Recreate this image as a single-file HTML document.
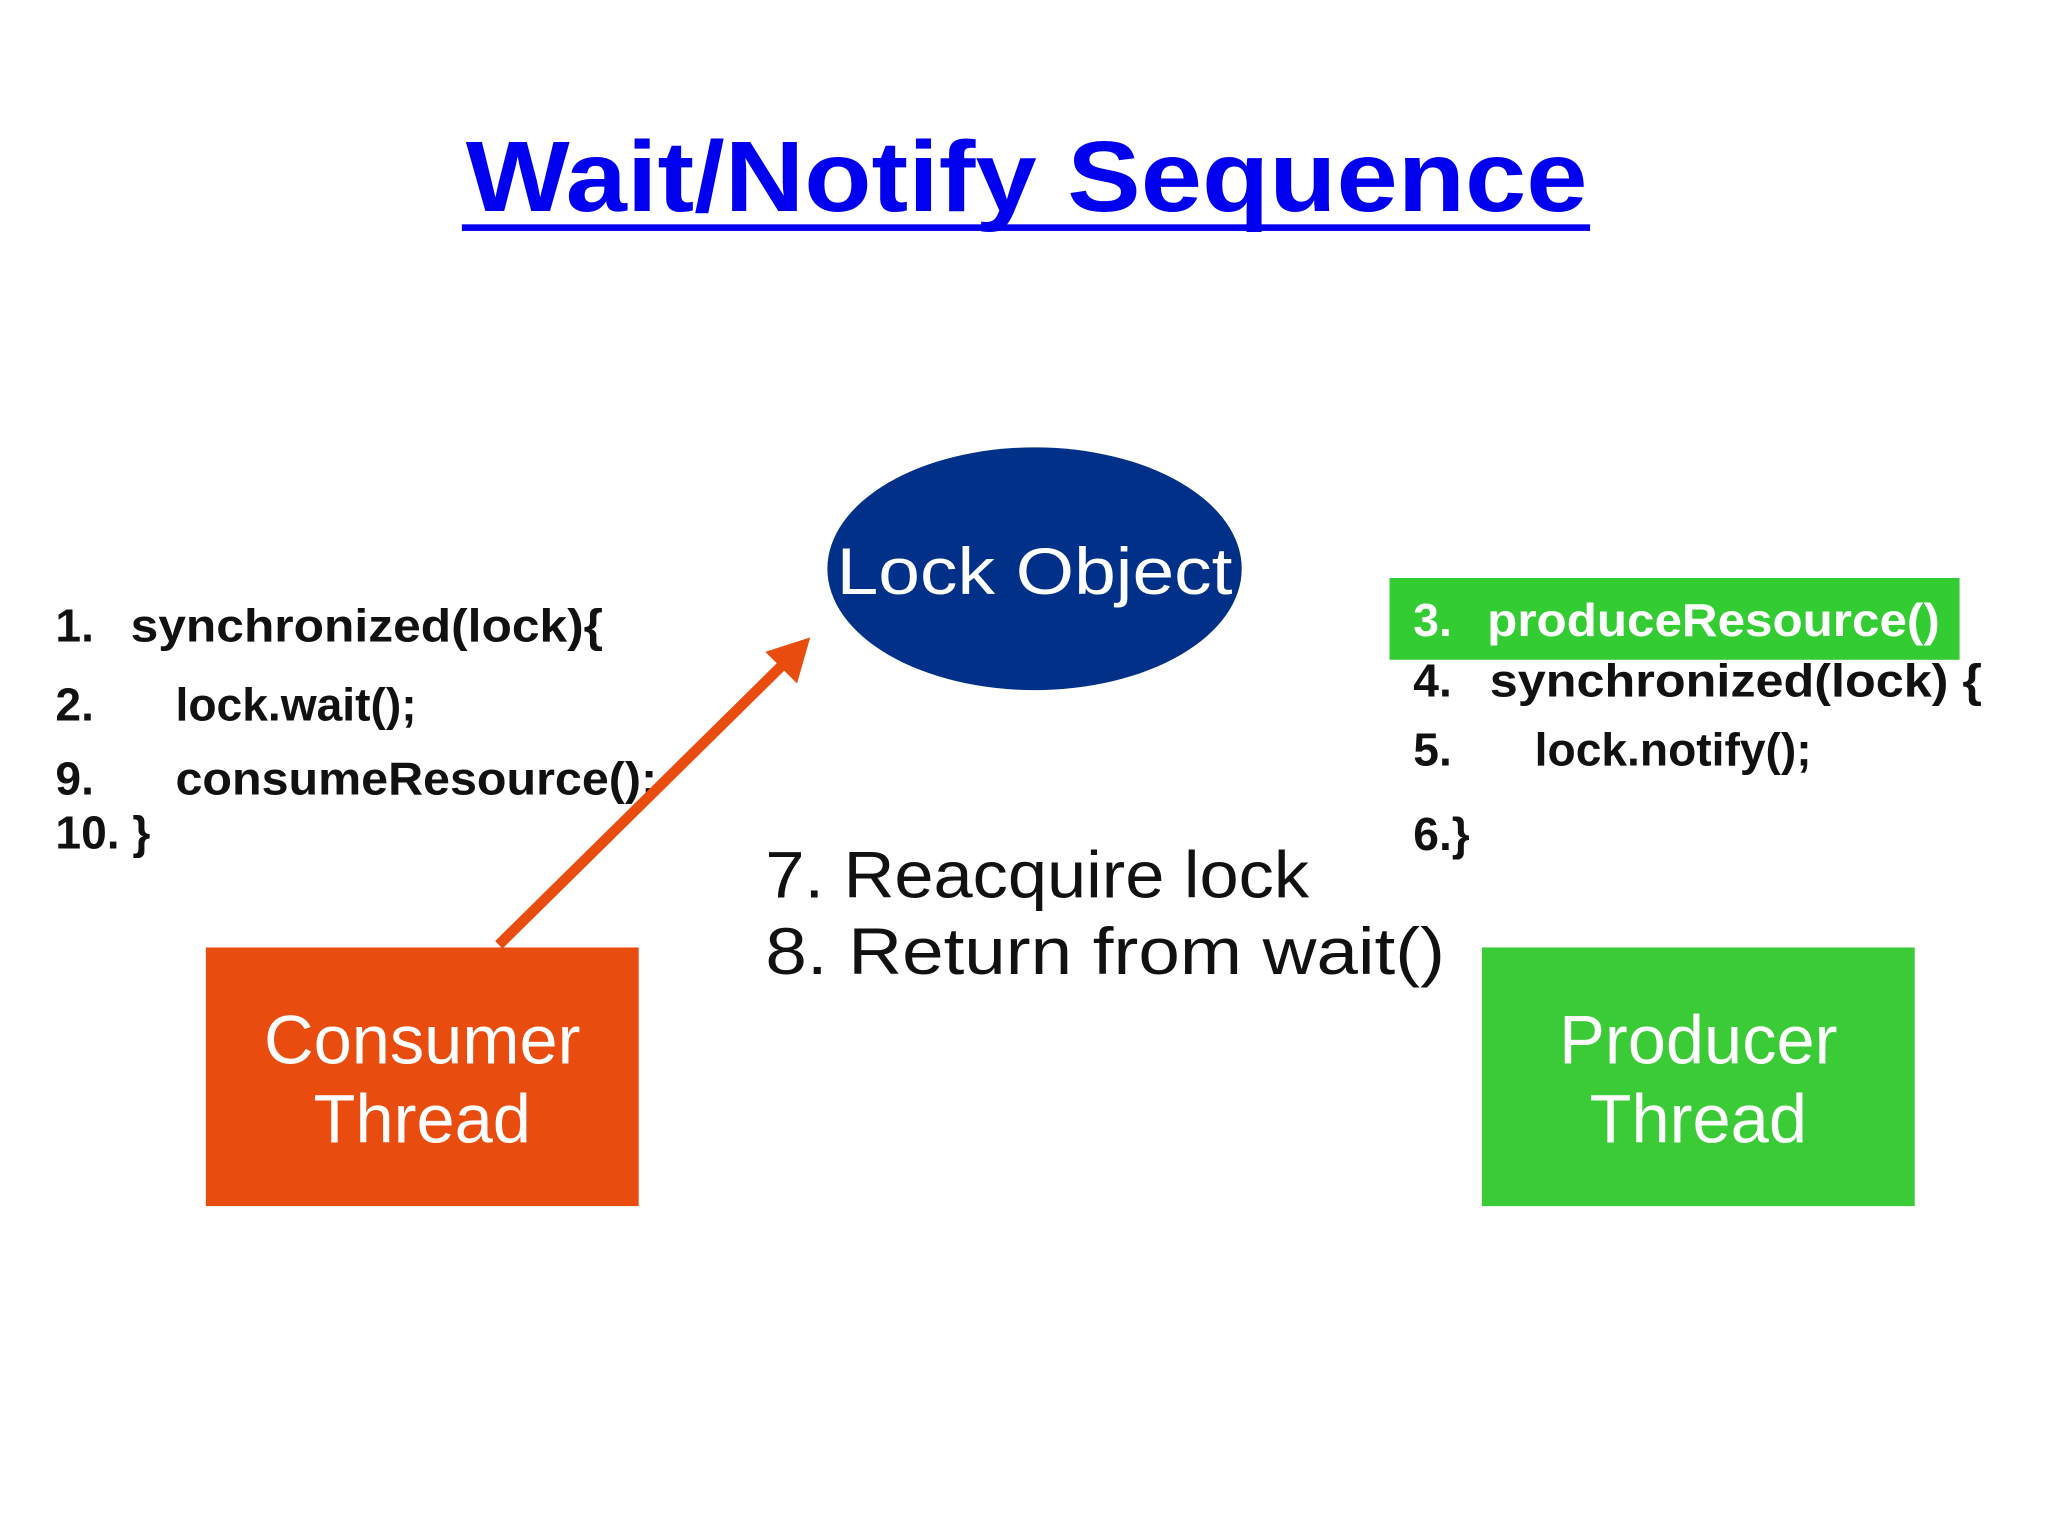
<!DOCTYPE html>
<html><head><meta charset="utf-8"><style>
html,body{margin:0;padding:0;background:#fff;}
svg{display:block;}
text{font-family:"Liberation Sans",sans-serif;}
</style></head><body>
<svg width="2048" height="1536" viewBox="0 0 1552 1164" xmlns="http://www.w3.org/2000/svg">
<rect width="1552" height="1164" fill="#fff"/>
<text x="778" y="160" text-anchor="middle" font-size="76" font-weight="bold" fill="#0000EE" textLength="850" lengthAdjust="spacingAndGlyphs">Wait/Notify Sequence</text>
<rect x="350" y="170" width="855" height="5" fill="#0000EE"/>
<ellipse cx="784" cy="431" rx="157" ry="92" fill="#003087"/>
<text x="784" y="450" text-anchor="middle" font-size="50" fill="#fff" textLength="300" lengthAdjust="spacingAndGlyphs">Lock Object</text>
<g font-size="35" font-weight="bold" fill="#111">
<text x="42" y="486">1.</text><text x="99" y="486" textLength="358" lengthAdjust="spacingAndGlyphs">synchronized(lock){</text>
<text x="42" y="546">2.</text><text x="133" y="546">lock.wait();</text>
<text x="42" y="602">9.</text><text x="133" y="602" textLength="365" lengthAdjust="spacingAndGlyphs">consumeResource();</text>
<text x="42" y="643">10. }</text>
</g>
<line x1="378" y1="716" x2="598" y2="499" stroke="#E84C0E" stroke-width="8"/>
<polygon points="614,483 604,518 580,494" fill="#E84C0E"/>
<rect x="156" y="718" width="328" height="196" fill="#E84C0E"/>
<text x="320" y="806" text-anchor="middle" font-size="52" fill="#fff">Consumer</text>
<text x="320" y="866" text-anchor="middle" font-size="52" fill="#fff">Thread</text>
<rect x="1123" y="718" width="328" height="196" fill="#3ACB37"/>
<text x="1287" y="806" text-anchor="middle" font-size="52" fill="#fff">Producer</text>
<text x="1287" y="866" text-anchor="middle" font-size="52" fill="#fff">Thread</text>
<rect x="1053" y="438" width="432" height="62" fill="#33CC33"/>
<g font-size="35" font-weight="bold">
<text x="1071" y="482" fill="#fff">3.</text><text x="1127" y="482" fill="#fff" textLength="343" lengthAdjust="spacingAndGlyphs">produceResource()</text>
<text x="1071" y="528" fill="#111">4.</text><text x="1129" y="528" fill="#111" textLength="373" lengthAdjust="spacingAndGlyphs">synchronized(lock) {</text>
<text x="1071" y="580" fill="#111">5.</text><text x="1163" y="580" fill="#111">lock.notify();</text>
<text x="1071" y="644" fill="#111">6.}</text>
</g>
<text x="580" y="680" font-size="50" fill="#111" textLength="412" lengthAdjust="spacingAndGlyphs">7. Reacquire lock</text>
<text x="580" y="738" font-size="50" fill="#111" textLength="515" lengthAdjust="spacingAndGlyphs">8. Return from wait()</text>
</svg>
</body></html>
